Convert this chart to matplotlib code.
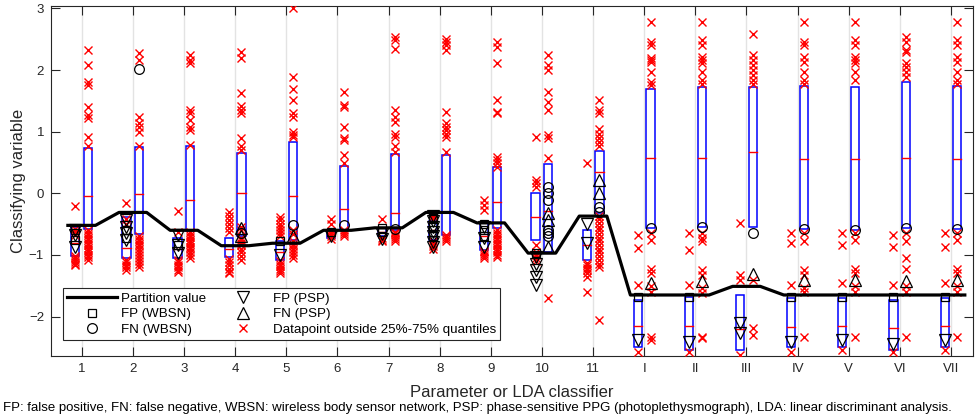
import numpy as np
import matplotlib
matplotlib.use('Agg')
import matplotlib.pyplot as plt
from matplotlib.patches import Rectangle
from matplotlib.lines import Line2D

plt.rcParams['font.family'] = ['Liberation Sans', 'DejaVu Sans']

categories = ['1', '2', '3', '4', '5', '6', '7', '8', '9', '10', '11',
              'I', 'II', 'III', 'IV', 'V', 'VI', 'VII']

partition = [-0.52, -0.31, -0.60, -0.85, -0.81, -0.60, -0.56, -0.31, -0.48, -0.97, -0.37,
             -1.65, -1.65, -1.51, -1.65, -1.65, -1.65, -1.65]

# left column box (25%, median, 75%)
left_q25 = [-1.02, -1.05, -1.05, -1.04, -1.08, -0.72, -0.70, -0.75, -0.92, -0.75, -1.08,
            -2.49, -2.54, -2.55, -2.49, -2.49, -2.54, -2.49]
left_med = [-0.80, -0.89, -0.90, -0.90, -0.95, -0.66, -0.62, -0.60, -0.70, -0.39, -0.84,
            -2.15, -2.16, -2.20, -2.17, -2.16, -2.18, -2.16]
left_q75 = [-0.54, -0.38, -0.73, -0.72, -0.78, -0.60, -0.56, -0.45, -0.46, 0.01, -0.60,
            -1.73, -1.68, -1.65, -1.70, -1.70, -1.73, -1.70]

# right column box (25%, median, 75%)
right_q25 = [-0.58, -0.66, -0.61, -0.70, -0.76, -0.60, -0.60, -0.68, -0.57, -0.95, -0.32,
             -0.57, -0.54, -0.54, -0.58, -0.60, -0.57, -0.58]
right_med = [-0.04, -0.01, -0.11, 0.00, -0.04, -0.26, -0.32, -0.31, -0.14, -0.28, 0.34,
             0.57, 0.57, 0.67, 0.56, 0.56, 0.58, 0.56]
right_q75 = [0.73, 0.75, 0.77, 0.65, 0.84, 0.45, 0.64, 0.62, 0.42, 0.47, 0.69,
             1.70, 1.72, 1.72, 1.74, 1.72, 1.81, 1.74]

# datapoints outside 25%-75% quantiles
left_outliers = [
    [-0.21, -0.58, -0.62, -0.68, -1.02, -1.05, -1.08, -1.11, -1.14, -1.17],
    [-0.15, -0.42, -0.50, -1.08, -1.12, -1.16, -1.20, -1.24],
    [-0.28, -0.62, -1.08, -1.12, -1.16, -1.20, -1.24, -1.28],
    [-0.30, -0.36, -0.43, -0.50, -0.56, -0.62, -1.07, -1.12, -1.17, -1.22, -1.27, -1.30],
    [-0.38, -0.44, -0.49, -0.55, -0.60, -0.65, -0.70, -1.10, -1.14, -1.18, -1.22, -1.26, -1.30],
    [-0.41, -0.49, -0.62, -0.66, -0.70, -0.74],
    [-0.41, -0.72, -0.75, -0.78],
    [-0.33, -0.37, -0.41, -0.78, -0.82, -0.86, -0.90],
    [-0.11, -0.19, -0.27, -0.93, -0.96, -0.99, -1.02, -1.05],
    [0.92, 0.22, 0.16, 0.11, -0.84, -0.95, -1.00, -1.05, -1.10],
    [0.49, -1.13, -1.17, -1.21, -1.25, -1.30, -1.35, -1.60],
    [-0.68, -0.89, -1.49, -2.57],
    [-0.65, -0.92, -1.49, -2.57],
    [-0.48, -1.32, -1.41, -2.62],
    [-0.65, -0.81, -1.49, -2.57],
    [-0.65, -0.84, -1.46, -2.54],
    [-0.68, -0.87, -1.49, -2.57],
    [-0.65, -0.87, -1.46, -2.55],
]
right_outliers = [
    [2.32, 2.08, 1.81, 1.76, 1.40, 1.27, 1.23, 0.92, 0.77,
     -0.60, -0.64, -0.68, -0.72, -0.76, -0.80, -0.84, -0.88, -0.92, -0.96, -1.00, -1.04, -1.08],
    [2.28, 2.16, 1.24, 1.14, 1.08, 1.00, 0.76,
     -0.70, -0.74, -0.78, -0.82, -0.86, -0.90, -0.95, -1.00, -1.05, -1.10, -1.15, -1.20],
    [2.24, 2.16, 2.11, 1.35, 1.30, 1.19, 1.08, 1.03, 0.79,
     -0.63, -0.67, -0.71, -0.75, -0.79, -0.83, -0.87, -0.91, -0.95, -1.00, -1.05],
    [2.30, 2.19, 1.63, 1.42, 1.35, 1.30, 0.89, 0.76, 0.70,
     -0.55, -0.60, -0.72, -0.76, -0.80, -0.84, -0.90, -0.96, -1.02, -1.08],
    [3.00, 1.88, 1.70, 1.51, 1.30, 1.24, 1.00, 0.95, 0.92,
     -0.60, -0.66, -0.78, -0.82, -0.86, -0.90, -0.95, -1.00, -1.05],
    [1.65, 1.43, 1.40, 1.08, 0.89, 0.86, 0.62, 0.49,
     -0.60, -0.63, -0.66, -0.70],
    [2.54, 2.49, 2.35, 1.35, 1.24, 1.16, 0.97, 0.92, 0.76, 0.67,
     -0.62, -0.65, -0.68, -0.71, -0.74, -0.77],
    [2.51, 2.46, 2.40, 2.32, 1.32, 1.14, 1.08, 1.03, 0.97, 0.92, 0.67,
     -0.68, -0.71, -0.74, -0.77],
    [2.46, 2.38, 2.11, 1.51, 1.32, 1.30, 0.59, 0.54, 0.49, 0.43,
     -0.60, -0.64, -0.68, -0.72, -0.76, -0.80, -0.84, -0.88, -0.92, -0.96, -1.00, -1.04],
    [2.24, 2.08, 2.00, 1.65, 1.49, 1.35, 0.95, 0.89, 0.57, -1.70],
    [1.51, 1.35, 1.30, 1.05, 0.97, 0.89, 0.84, 0.76,
     -0.36, -0.42, -0.48, -0.54, -0.60, -0.66, -0.72, -0.78, -0.84, -0.90, -0.96, -1.02,
     -1.08, -1.14, -1.20, -2.05],
    [2.78, 2.46, 2.40, 2.19, 2.16, 2.13, 1.97, 1.81, 1.76,
     -0.65, -0.76, -1.22, -1.30, -1.51, -1.60, -2.33, -2.38],
    [2.78, 2.49, 2.40, 2.21, 2.16, 2.11, 1.97, 1.84, 1.78,
     -0.65, -0.73, -0.78, -1.24, -1.32, -1.54, -1.62, -2.33, -2.35],
    [2.59, 2.24, 2.16, 2.08, 2.00, 1.92, 1.84, 1.78, -1.41, -2.19, -2.30],
    [2.78, 2.46, 2.40, 2.21, 2.13, 1.97, 1.84, 1.78,
     -0.65, -0.78, -1.24, -1.32, -1.54, -1.60, -2.33],
    [2.78, 2.49, 2.40, 2.21, 2.16, 2.11, 1.97, 1.84,
     -0.65, -0.76, -1.22, -1.30, -1.51, -1.60, -2.33],
    [2.54, 2.46, 2.32, 2.30, 2.11, 2.05, 1.97, 1.89,
     -0.65, -0.78, -1.05, -1.22, -1.51, -1.60, -2.33],
    [2.78, 2.49, 2.40, 2.21, 2.13, 1.97, 1.84, 1.78,
     -0.65, -0.76, -1.22, -1.30, -1.51, -1.60, -2.33],
]

# misclassified points
fp_wbsn = [[-0.60, -0.76], [-0.60, -0.72], [-0.84], [], [-0.78], [-0.62], [-0.57, -0.62],
           [-0.40, -0.55, -0.70], [-0.50, -0.60, -0.70], [-0.97], [],
           [-1.68], [-1.68], [], [-1.68], [-1.68], [-1.68], [-1.68]]
fn_wbsn = [[], [2.01], [], [-0.65], [-0.51], [-0.51], [-0.58], [], [],
           [0.11, 0.00, -0.11, -0.60, -0.65, -0.70], [-0.22, -0.30],
           [-0.57], [-0.54], [-0.65], [-0.58], [-0.60], [-0.57], [-0.58]]
fp_psp = [[-0.60, -0.68, -0.87], [-0.43, -0.55, -0.65, -0.76], [-0.68, -0.84, -0.97], [],
          [-1.00], [-0.70], [-0.66, -0.74],
          [-0.36, -0.45, -0.54, -0.62, -0.70, -0.79, -0.87], [-0.55, -0.72, -0.87],
          [-1.03, -1.14, -1.24, -1.35, -1.49], [-0.49, -0.81],
          [-2.38], [-2.41], [-2.11, -2.26], [-2.41], [-2.38], [-2.44], [-2.38]]
fn_psp = [[], [], [], [-0.57, -0.70], [-0.70], [], [], [], [],
          [-0.32, -0.43, -0.87], [0.22, 0.00],
          [-1.46], [-1.43], [-1.31], [-1.41], [-1.41], [-1.43], [-1.41]]

footnote = ('FP: false positive, FN: false negative, WBSN: wireless body sensor network, '
            'PSP: phase-sensitive PPG (photoplethysmograph), LDA: linear discriminant analysis.')

W, H = 975, 420
fig = plt.figure(figsize=(W / 100, H / 100), dpi=100)
ax = fig.add_axes([51 / W, 1 - 356 / H, 922 / W, 350 / H])

n = len(categories)
xs = np.arange(1, n + 1)
off = 0.125
bw = 0.16
axc = '#262626'

for i, x in enumerate(xs):
    for side, q25, med, q75, outs in ((-1, left_q25[i], left_med[i], left_q75[i], left_outliers[i]),
                                      (1, right_q25[i], right_med[i], right_q75[i], right_outliers[i])):
        cx = x + side * off
        ax.add_patch(Rectangle((cx - bw / 2, q25), bw, q75 - q25, fill=False,
                               ec='#0000ff', lw=1.1, zorder=2))
        ax.plot([cx - bw / 2, cx + bw / 2], [med, med], color='#ff0000', lw=1, zorder=2)
        ax.plot([cx] * len(outs), outs, ls='none', marker='x', ms=6, mew=1,
                color='#ff0000', zorder=3)

# partition line
px, py = [], []
for x, p in zip(xs, partition):
    px += [x - 0.27, x + 0.27]
    py += [p, p]
ax.plot(px, py, color='black', lw=2.3, zorder=4, solid_joinstyle='round')

mk = dict(ls='none', mfc='none', mec='black', mew=0.9)
for i, x in enumerate(xs):
    ax.plot([x - off] * len(fp_wbsn[i]), fp_wbsn[i], marker='s', ms=6, zorder=5, **mk)
    ax.plot([x - off] * len(fp_psp[i]), fp_psp[i], marker='v', ms=8, zorder=5, **mk)
    ax.plot([x + off] * len(fn_wbsn[i]), fn_wbsn[i], marker='o', ms=7, zorder=5, **mk)
    ax.plot([x + off] * len(fn_psp[i]), fn_psp[i], marker='^', ms=8, zorder=5, **mk)

ax.set_xlim(0.4, 18.43)
ax.set_ylim(-2.64, 3.04)
ax.set_xticks(xs)
ax.set_xticklabels(categories)
ax.set_yticks([-2, -1, 0, 1, 2, 3])
ax.tick_params(direction='in', length=6.5, width=0.8, top=True, right=True,
               colors=axc, labelsize=9.5, pad=5)
ax.grid(axis='x', color='#e3e3e3', lw=1, zorder=0)
ax.set_axisbelow(True)
for s in ax.spines.values():
    s.set_color(axc)
    s.set_linewidth(0.8)

ax.set_xlabel('Parameter or LDA classifier', fontsize=12, color=axc, labelpad=7.5)
ax.set_ylabel('Classifying variable', fontsize=12, color=axc, labelpad=2)

handles = [
    Line2D([], [], color='black', lw=2.3),
    Line2D([], [], marker='s', ms=6, **mk),
    Line2D([], [], marker='o', ms=7, **mk),
    Line2D([], [], marker='v', ms=8, **mk),
    Line2D([], [], marker='^', ms=8, **mk),
    Line2D([], [], ls='none', marker='x', ms=6, mew=1, color='#ff0000'),
]
labels = ['Partition value', 'FP (WBSN)', 'FN (WBSN)', 'FP (PSP)', 'FN (PSP)',
          'Datapoint outside 25%-75% quantiles']
leg = ax.legend(handles, labels, ncol=2, loc='lower left',
                bbox_to_anchor=(12 / 922, 16 / 350), fontsize=9.65, frameon=True,
                fancybox=False, framealpha=1, edgecolor=axc, handlelength=3.7,
                handletextpad=0.35, columnspacing=0.9, borderpad=0.3,
                labelspacing=0.25, borderaxespad=0)
leg.get_frame().set_linewidth(0.8)
leg.set_zorder(10)

fig.text(3 / W, 1 - 408 / H, footnote, fontsize=9.52, va='center', ha='left', color='black')

fig.savefig('out.png', dpi=100)
